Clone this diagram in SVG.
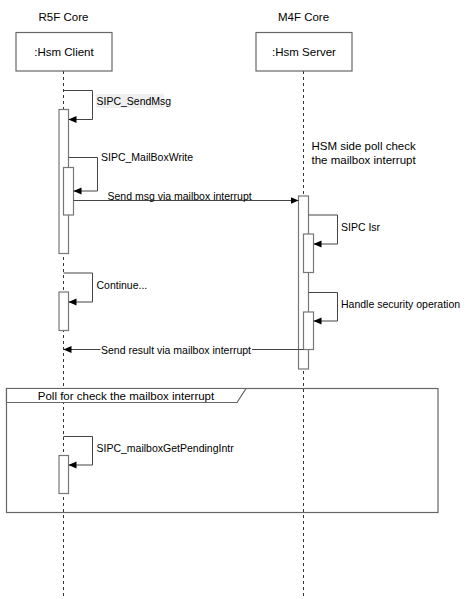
<svg xmlns="http://www.w3.org/2000/svg" width="473" height="599" viewBox="0 0 473 599">
<defs>
<marker id="arr" markerUnits="userSpaceOnUse" markerWidth="8" markerHeight="8" refX="8" refY="4" orient="auto">
<path d="M0,0.5 L8,4 L0,7.5 z" fill="#000"/>
</marker>
<style>
text{font-family:"Liberation Sans",Arial,sans-serif;font-size:11.5px;fill:#000}
text.m{font-size:10.5px}
.mid{text-anchor:middle}
.box{fill:#fff;stroke:#666;stroke-width:1.2}
.act{fill:#fff;stroke:#777;stroke-width:1.2}
.life{stroke:#333;stroke-width:1;stroke-dasharray:3,3;fill:none}
.msg{fill:none;stroke:#444;stroke-width:1}
.lblbg{fill:#fff}
</style>
</defs>
<rect width="473" height="599" fill="#fff"/>

<g id="lifelines">
<line class="life" x1="63.5" y1="71" x2="63.5" y2="599"/>
<line class="life" x1="303.5" y1="71" x2="303.5" y2="599"/>
</g>

<g id="frame-poll">
<rect x="6.5" y="388.5" width="431.5" height="124" fill="none" stroke="#666" stroke-width="1.2"/>
<path d="M6.5,388.5 H246 L237,402.5 H6.5 z" fill="#fff" stroke="#666" stroke-width="1.2"/>
<text class="mid" x="126" y="399.5">Poll for check the mailbox interrupt</text>
</g>

<g id="client">
<text class="mid" x="63.5" y="21">R5F Core</text>
<rect class="box" x="16" y="32.5" width="96" height="38.5"/>
<text class="mid" x="64" y="56">:Hsm Client</text>
</g>

<g id="server">
<text class="mid" x="303.5" y="21">M4F Core</text>
<rect class="box" x="256" y="32.5" width="96" height="38.5"/>
<text class="mid" x="304" y="56">:Hsm Server</text>
</g>

<g id="client-activations">
<rect class="act" x="59" y="109.5" width="9.5" height="144"/>
<rect class="act" x="63.5" y="167.5" width="10" height="47.5"/>
<rect class="act" x="59" y="292" width="9.5" height="38.5"/>
<rect class="act" x="59" y="455.5" width="9.5" height="38"/>
</g>

<g id="server-activations">
<rect class="act" x="298.5" y="196" width="10" height="173"/>
<rect class="act" x="303.5" y="234" width="10" height="38.5"/>
<rect class="act" x="303.5" y="312" width="10" height="37.5"/>
</g>

<g id="connectors">
<path class="msg" d="M63.5,90.5 H92.5 V119.5 H68.5" marker-end="url(#arr)"/>
<path class="msg" d="M68.5,157.5 H97.5 V191 H73.5" marker-end="url(#arr)"/>
<path class="msg" d="M73.5,200.5 H298.5" marker-end="url(#arr)"/>
<path class="msg" d="M308.5,215 H337.5 V244 H313.5" marker-end="url(#arr)"/>
<path class="msg" d="M308.5,292.5 H337.5 V321 H313.5" marker-end="url(#arr)"/>
<path class="msg" d="M303.5,349.5 H63.5" marker-end="url(#arr)"/>
<path class="msg" d="M63.5,273 H92.5 V302 H68.5" marker-end="url(#arr)"/>
<path class="msg" d="M63.5,436.5 H92.5 V465 H68.5" marker-end="url(#arr)"/>
</g>

<g id="labels">
<rect x="96" y="94" width="68" height="14" fill="#efefef"/>
<text class="m" x="96.5" y="105">SIPC_SendMsg</text>
<text class="m" x="101" y="160.5">SIPC_MailBoxWrite</text>
<rect class="lblbg" x="107" y="193" width="146" height="7"/>
<text class="m" x="107.5" y="200">Send msg via mailbox interrupt</text>
<text x="311.5" y="149.5">HSM side poll check</text>
<text x="311.5" y="163.5">the mailbox interrupt</text>
<text class="m" x="341" y="230.5">SIPC Isr</text>
<text class="m" x="341" y="308">Handle security operation</text>
<text class="m" x="96.5" y="289">Continue...</text>
<rect class="lblbg" x="100.5" y="344" width="151.5" height="11"/>
<text class="m" x="101" y="353.5">Send result via mailbox interrupt</text>
<text class="m" x="96.5" y="452">SIPC_mailboxGetPendingIntr</text>
</g>
</svg>
